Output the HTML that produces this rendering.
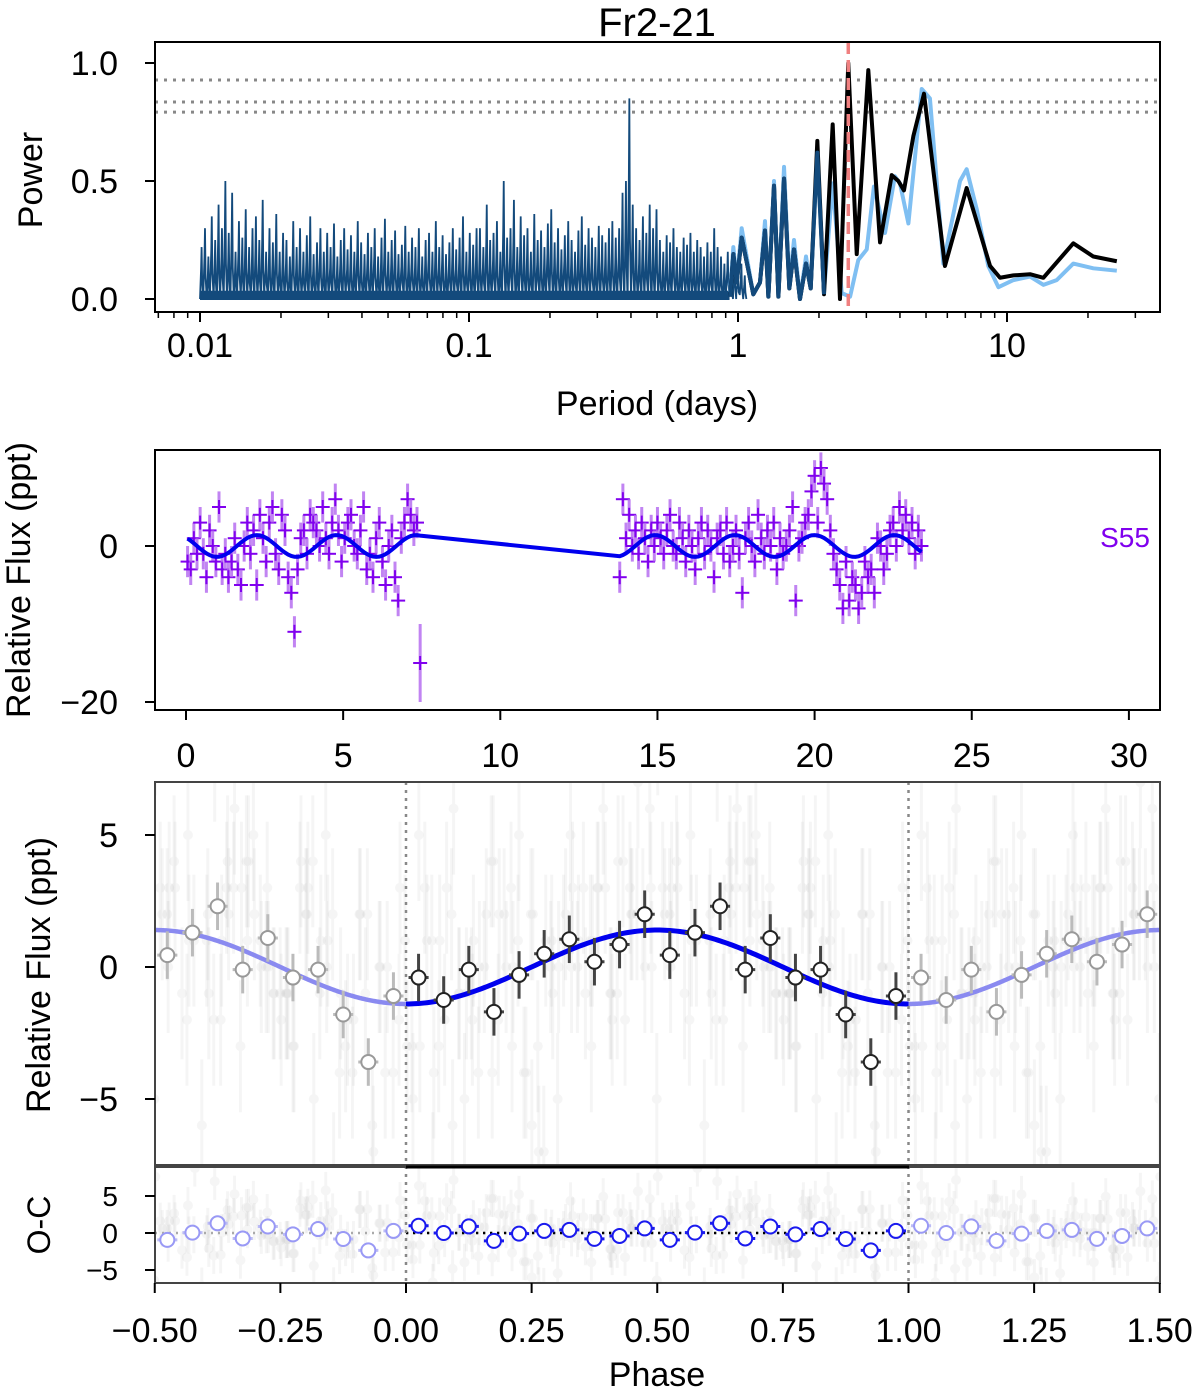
<!DOCTYPE html>
<html><head><meta charset="utf-8"><style>
html,body{margin:0;padding:0;background:#fff;}
svg{display:block;font-family:"Liberation Sans",Arial,sans-serif;}
</style></head><body>
<svg id="fig" width="1200" height="1391" viewBox="0 0 1200 1391" xmlns="http://www.w3.org/2000/svg">
<defs>
<clipPath id="c1"><rect x="155" y="42" width="1005" height="270"/></clipPath>
<clipPath id="c2"><rect x="155" y="450" width="1005" height="260"/></clipPath>
<clipPath id="c3"><rect x="155" y="782" width="1005" height="383"/></clipPath>
<clipPath id="c4"><rect x="155" y="1167" width="1005" height="116"/></clipPath>
</defs>
<text x="657" y="36" font-size="40" text-anchor="middle">Fr2-21</text>
<g id="g1" clip-path="url(#c1)"></g>
<g id="g2" clip-path="url(#c2)"></g>
<g id="g3" clip-path="url(#c3)"></g>
<g id="g4" clip-path="url(#c4)"></g>
<g id="axes"></g>
</svg>
<script>
// ---------- periodogram data ----------
const noisePeaks=[0.22,0.3,0.18,0.35,0.25,0.4,0.3,0.5,0.28,0.45,0.2,0.33,0.26,0.38,0.22,0.3,0.35,0.25,0.42,0.2,0.3,0.24,0.36,0.2,0.28,
0.25,0.18,0.33,0.22,0.3,0.2,0.27,0.35,0.19,0.24,0.3,0.2,0.28,0.22,0.32,0.18,0.25,0.3,0.21,0.27,0.2,0.33,0.24,0.19,0.28,0.22,0.3,0.18,0.26,0.34,0.2,0.25,0.29,0.19,0.23,0.31,0.2,0.26,0.22,0.3,0.18,0.25,0.28,0.2,0.33,0.22,0.27,0.19,0.24,0.3,0.21,0.26,0.35,0.2,0.28,0.23,0.3,
0.3,0.22,0.4,0.25,0.28,0.33,0.2,0.5,0.26,0.3,0.42,0.22,0.35,0.27,0.3,0.2,0.36,0.25,0.29,0.22,0.32,0.38,0.24,0.3,0.21,0.27,0.33,0.25,0.2,0.29,0.35,0.23,0.3,0.26,0.22,0.31,0.27,0.24,0.3,
0.33,0.26,0.3,0.45,0.5,0.85,0.4,0.3,0.25,0.35,0.28,0.4,0.3,0.38,0.25,0.2,0.27,0.24,0.3,0.22,0.2,0.26,0.23,0.28,0.2,0.25,0.22,0.18,0.24,0.2,0.3,0.22,0.18,0.15,0.2,0.12,0.18,0.1,0.15,0.1];
const noiseLows=[0.0,0.03,0.0,0.05,0.01,0.0,0.04,0.02];
const blackPeriod=[0.934,0.961,0.989,1.032,1.14,1.207,1.26,1.297,1.361,1.413,1.483,1.552,1.615,1.7,1.79,1.863,1.972,2.088,2.249,2.394,2.57,2.763,3.051,3.373,3.727,3.945,4.14,4.486,4.914,5.88,7.08,8.65,9.42,10.56,12.18,13.65,17.64,20.94,25.6];
const blackPower=[0.01,0.19,0.07,0.26,0.02,0.07,0.29,0.01,0.48,0.01,0.51,0.045,0.21,0.0,0.15,0.045,0.67,0.02,0.74,0.0,1.0,0.19,0.97,0.24,0.525,0.5,0.46,0.69,0.87,0.14,0.47,0.14,0.09,0.1,0.105,0.09,0.236,0.18,0.16];
const bluePeriod=[0.934,0.961,0.989,1.032,1.14,1.207,1.26,1.297,1.361,1.413,1.483,1.552,1.615,1.7,1.79,1.863,1.972,2.088,2.249,2.43,2.61,2.8,3.01,3.2,3.52,3.83,4.0,4.3,4.82,5.17,5.8,6.69,7.08,7.72,8.52,9.29,10.56,12.18,13.65,15.3,17.64,20.94,25.6];
const bluePower=[0.03,0.22,0.07,0.3,0.02,0.07,0.33,0.01,0.5,0.02,0.56,0.06,0.25,0.0,0.18,0.045,0.62,0.03,0.49,0.025,0.01,0.165,0.21,0.476,0.28,0.52,0.49,0.32,0.89,0.85,0.15,0.5,0.55,0.38,0.14,0.05,0.08,0.095,0.06,0.08,0.15,0.13,0.12];
const fapLevels=[0.928,0.835,0.792];
const bestPeriod=2.57;
const xTicks1=[0.01,0.1,1,10], xTickLabels1=["0.01","0.1","1","10"];
const yTicks1=[0,0.5,1.0], yTickLabels1=["0.0","0.5","1.0"];
// ---------- light curve data ----------
const seg1Start=0.05, seg2Start=13.8, dtStep=0.1;
const flux1=[-2,-3,1,-1,3,-1,-4,2,0,-2,5,-3,-1,-4,-2,1,-3,-5,0,3,-1,2,-5,4,1,-2,3,5,-1,-3,4,2,-4,-6,-11,-3,1,2,-1,4,3,2,0,5,1,-1,3,6,2,-2,1,3,4,0,-1,2,5,-3,-1,-4,1,3,-2,-5,0,2,-4,-7,1,3,6,4,2,3,-15];
const flux2=[-4,6,1,4,0,2,-1,3,1,-2,2,0,3,1,-1,2,4,0,-1,3,1,-2,2,0,-3,1,3,-1,2,0,-4,1,2,-1,3,-2,0,2,-1,-6,1,3,0,-2,4,1,-1,2,0,3,-3,1,-1,0,2,5,-7,0,1,3,
4,7,9,3,10,8,6,
2,-1,-3,-5,-8,-2,-7,-4,-5,-8,-6,-2,-4,-3,-6,1,0,-3,-1,
2,3,0,5,2,4,1,3,-1,2,0];
const period=2.535, epochMin=3.52, amp=1.4;
const xTicks2=[0,5,10,15,20,25,30], yTicks2=[0,-20];
// ---------- binned phase data ----------
const binPhase=[0.025,0.075,0.125,0.175,0.225,0.275,0.325,0.375,0.425,0.475,0.525,0.575,0.625,0.675,0.725,0.775,0.825,0.875,0.925,0.975];
const binFlux=[-0.4,-1.25,-0.1,-1.7,-0.3,0.5,1.05,0.2,0.85,2.0,0.45,1.3,2.3,-0.1,1.1,-0.4,-0.1,-1.8,-3.6,-1.1];
const xTicks3=[-0.5,-0.25,0,0.25,0.5,0.75,1,1.25,1.5], xTickLabels3=["\u22120.50","\u22120.25","0.00","0.25","0.50","0.75","1.00","1.25","1.50"];
const yTicks3=[5,0,-5], yTicks4=[5,0,-5];

const NS="http://www.w3.org/2000/svg";
function mk(tag,attrs,parent){const e=document.createElementNS(NS,tag);for(const k in attrs)e.setAttribute(k,attrs[k]);parent.appendChild(e);return e;}
const g1=document.getElementById('g1'),g2=document.getElementById('g2'),g3=document.getElementById('g3'),g4=document.getElementById('g4'),ax=document.getElementById('axes');
const p1x=P=>200+269*(Math.log10(P)+2), p1y=v=>299-236*v;
const p2x=t=>186+31.43*t, p2y=v=>546-7.8*v;
const p3x=p=>406+502.5*p, p3y=v=>967-26.4*v, p4y=v=>1233-7.4*v;
const model=ph=>-amp*Math.cos(2*Math.PI*ph);
const phaseOf=t=>{let p=((t-epochMin)/period)%1;if(p<0)p+=1;return p;};

// ---- panel 1 ----
fapLevels.forEach(v=>{const l=mk('line',{x1:155,x2:1160,y1:p1y(v),y2:p1y(v),stroke:'#888','stroke-width':3,'stroke-dasharray':'3 6'},g1);
});
let d='';const stepL=0.01262;
noisePeaks.forEach((h,i)=>{const lp=-2+i*stepL;const x=p1x(Math.pow(10,lp));const lo=noiseLows[i%noiseLows.length];
d+=(i?'L':'M')+x+','+p1y(lo)+'L'+(x+1.1)+','+p1y(h*0.6)+'L'+(x+1.6)+','+p1y(h)+'L'+(x+2.2)+','+p1y(h*0.3)+'L'+(x+3.2)+','+p1y(lo*0.5);});
const nz=mk('path',{d:d,fill:'none',stroke:'#134a7c','stroke-width':1.8,'stroke-linejoin':'miter'},g1);

mk('rect',{x:200,y:p1y(0.035),width:p1x(0.93)-200,height:p1y(0)-p1y(0.035)+1,fill:'#134a7c'},g1);
function curve(P,V,col,w,name){let s='';P.forEach((p,i)=>{s+=(i?'L':'M')+p1x(p)+','+p1y(V[i]);});const e=mk('path',{d:s,fill:'none',stroke:col,'stroke-width':w,'stroke-linejoin':'round'},g1);}
curve(bluePeriod,bluePower,'#7fbff2',4,'periodogram-light-blue');
curve(blackPeriod,blackPower,'#000',4,'periodogram-black');
const nb=blackPeriod.filter(p=>p<2.1).length;
curve(blackPeriod.slice(0,nb),blackPower.slice(0,nb).map((v,i)=>Math.min(v,bluePower[i])),'#134a7c',4,'periodogram-dark-blue');
const bl=mk('line',{x1:p1x(bestPeriod),x2:p1x(bestPeriod),y1:42,y2:312,stroke:'#f08080','stroke-width':3.5,'stroke-dasharray':'12 6'},g1);


// ---- panel 2 ----
const t1=flux1.map((_,i)=>seg1Start+i*dtStep), t2=flux2.map((_,i)=>seg2Start+i*dtStep);
const allT=t1.concat(t2), allF=flux1.concat(flux2);
allT.forEach((t,i)=>{const f=allF[i];const err=(t>7.4&&t<7.5)?5:2;
const g=mk('g',{},g2);
mk('line',{x1:p2x(t),x2:p2x(t),y1:p2y(f-err),y2:p2y(f+err),stroke:'#b266f0','stroke-width':3,opacity:0.8},g);
mk('line',{x1:p2x(t),x2:p2x(t),y1:p2y(f)-7,y2:p2y(f)+7,stroke:'#8000ee','stroke-width':2},g);
mk('line',{x1:p2x(t)-7,x2:p2x(t)+7,y1:p2y(f),y2:p2y(f),stroke:'#8000ee','stroke-width':2},g);});
let md='';allT.forEach((t,i)=>{md+=(i?'L':'M')+p2x(t)+','+p2y(model(phaseOf(t)));});
const ml=mk('path',{d:md,fill:'none',stroke:'#0000ee','stroke-width':4},g2);


// ---- panel 3/4 faint points ----
[-1,0,1].forEach(sh=>{allT.forEach((t,i)=>{const ph=phaseOf(t)+sh;const f=allF[i];const x=p3x(ph);
const g=mk('g',{opacity:0.05},g3);
mk('line',{x1:x,x2:x,y1:p3y(f-2.5),y2:p3y(f+2.5),stroke:'#555','stroke-width':3},g);
mk('circle',{cx:x,cy:p3y(f),r:5,fill:'#555'},g);
const r=f-model(ph);const g4p=mk('g',{opacity:0.05},g4);
mk('line',{x1:x,x2:x,y1:p4y(r-2.5),y2:p4y(r+2.5),stroke:'#555','stroke-width':3},g4p);
mk('circle',{cx:x,cy:p4y(r),r:5,fill:'#555'},g4p);});});
function modelPath(a,b){let s='';for(let k=0;k<=200;k++){const p=a+(b-a)*k/200;s+=(k?'L':'M')+p3x(p)+','+p3y(model(p));}return s;}
[[-0.5,0],[1,1.5]].forEach(r=>{const e=mk('path',{d:modelPath(r[0],r[1]),fill:'none',stroke:'#8a8af0','stroke-width':4.5},g3);});
const mm=mk('path',{d:modelPath(0,1),fill:'none',stroke:'#0000ee','stroke-width':5},g3);

const z1=mk('line',{x1:155,x2:1160,y1:p4y(0),y2:p4y(0),stroke:'#aaa','stroke-width':2.5,'stroke-dasharray':'2 5'},g4);
const z2=mk('line',{x1:p3x(0),x2:p3x(1),y1:p4y(0),y2:p4y(0),stroke:'#000','stroke-width':2.5,'stroke-dasharray':'2 5'},g4);
function binPt(parent,ph,v,yf,col,ecol,errY,name){const x=p3x(ph),y=yf(v);const g=mk('g',{},parent);
mk('line',{x1:x,x2:x,y1:yf(v-errY),y2:yf(v+errY),stroke:ecol,'stroke-width':3},g);
mk('line',{x1:p3x(ph-0.02),x2:p3x(ph+0.02),y1:y,y2:y,stroke:ecol,'stroke-width':3},g);
mk('circle',{cx:x,cy:y,r:7,fill:'#fff',stroke:col,'stroke-width':2},g);}
binPhase.forEach((ph,i)=>{const v=binFlux[i];const r=v-model(ph);
const sh=ph>0.5?-1:1;
binPt(g3,ph+sh,v,p3y,'#999','#bbb',0.9,'binned-point-copy');
binPt(g3,ph,v,p3y,'#222','#444',0.9,'binned-point');
binPt(g4,ph+sh,r,p4y,'#9999f5','#bbbbf5',0.9,'binned-residual-copy');
binPt(g4,ph,r,p4y,'#1a1aee','#1a1aee',0.9,'binned-residual');});
[0,1].forEach(p=>{const l=mk('line',{x1:p3x(p),x2:p3x(p),y1:782,y2:1283,stroke:'#888','stroke-width':2.5,'stroke-dasharray':'3 5'},ax);});

// ---- frames and ticks ----
function frame(x,y,w,h,name,col){const r=mk('rect',{x:x,y:y,width:w,height:h,fill:'none',stroke:col||'#000','stroke-width':2},ax);}
frame(155,42,1005,270,'periodogram-frame');frame(155,450,1005,260,'lightcurve-frame');frame(155,782,1005,383,'phase-frame','#444');frame(155,1167,1005,116,'residual-frame','#444');
mk('line',{x1:406,x2:909,y1:1167,y2:1167,stroke:'#000','stroke-width':3},ax);
function txt(x,y,s,size,anchor,name,extra){const t=mk('text',Object.assign({x:x,y:y,'font-size':size,'text-anchor':anchor},extra||{}),ax);t.textContent=s;return t;}
function tick(x1,y1,x2,y2,w){mk('line',{x1:x1,y1:y1,x2:x2,y2:y2,stroke:'#000','stroke-width':w||2},ax);}
xTicks1.forEach((P,i)=>{const x=p1x(P);tick(x,312,x,322);txt(x,357,xTickLabels1[i],34,'middle','x-tick-label');});
for(let dec=-3;dec<=1;dec++)for(let m=2;m<=9;m++){const P=m*Math.pow(10,dec);const x=p1x(P);if(x<156||x>1159)continue;tick(x,312,x,318,1.5);}
yTicks1.forEach((v,i)=>{tick(145,p1y(v),155,p1y(v));txt(118,p1y(v)+12,yTickLabels1[i],34,'end','y-tick-label');});
txt(657,415,'Period (days)',34,'middle','x-axis-title');
txt(42,180,'Power',34,'middle','y-axis-title',{transform:'rotate(-90 42 180)'});
xTicks2.forEach(v=>{const x=p2x(v);tick(x,710,x,720);txt(x,767,String(v),34,'middle','x-tick-label');});
yTicks2.forEach(v=>{tick(145,p2y(v),155,p2y(v));txt(118,p2y(v)+12,v<0?'\u2212'+Math.abs(v):String(v),34,'end','y-tick-label');});
txt(30,580,'Relative Flux (ppt)',34,'middle','y-axis-title',{transform:'rotate(-90 30 580)'});
const s55=txt(1125,547,'S55',28,'middle','sector-label');s55.setAttribute('fill','#8000ee');
xTicks3.forEach((v,i)=>{const x=p3x(v);tick(x,1283,x,1293);txt(x,1342,xTickLabels3[i],34,'middle','x-tick-label');});
yTicks3.forEach(v=>{tick(145,p3y(v),155,p3y(v));txt(118,p3y(v)+12,v<0?'\u2212'+Math.abs(v):String(v),34,'end','y-tick-label');});
txt(50,975,'Relative Flux (ppt)',34,'middle','y-axis-title',{transform:'rotate(-90 50 975)'});
yTicks4.forEach(v=>{tick(145,p4y(v),155,p4y(v));txt(118,p4y(v)+10,v<0?'\u2212'+Math.abs(v):String(v),28,'end','y-tick-label');});
txt(50,1225,'O-C',32,'middle','y-axis-title',{transform:'rotate(-90 50 1225)'});
txt(657,1386,'Phase',34,'middle','x-axis-title');
</script>
</body></html>
